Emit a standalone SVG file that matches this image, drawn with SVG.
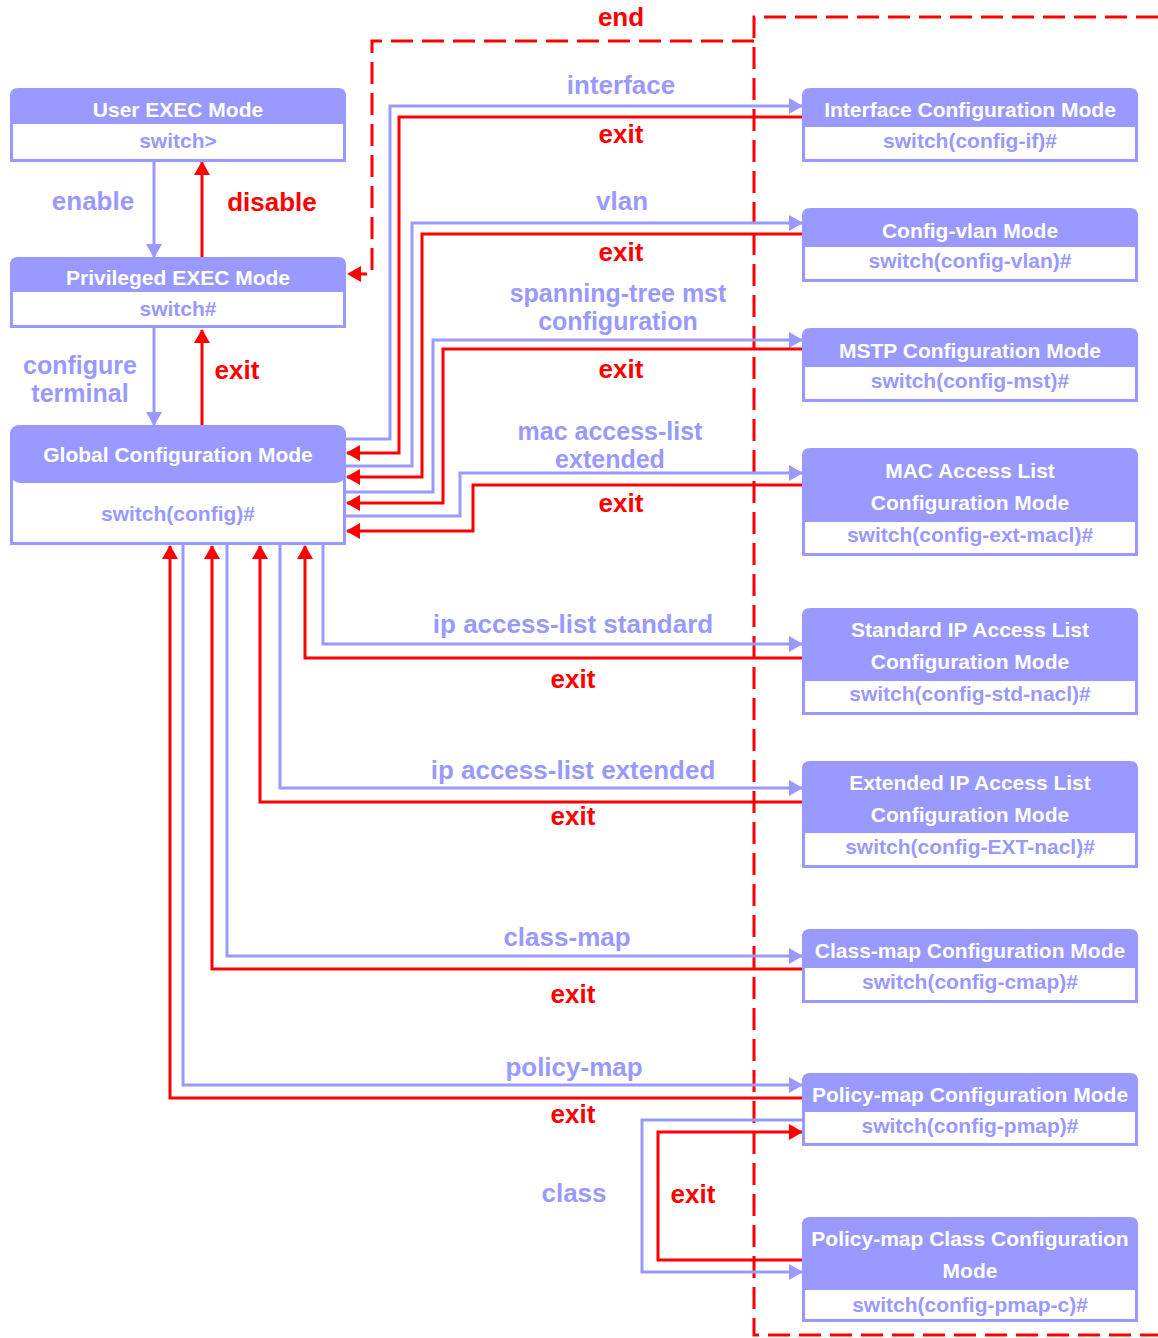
<svg xmlns="http://www.w3.org/2000/svg" width="1158" height="1338" viewBox="0 0 1158 1338">
<style>
.t{font-family:"Liberation Sans",Arial,sans-serif;font-weight:bold;text-anchor:middle}
.nt{font-size:21px;fill:#ffffff}
.ns{font-size:21px;fill:#9999ff}
.lp{font-size:26px;fill:#9999ff}
.lr{font-size:26px;fill:#ff0000}
.l2{font-size:25px}
.cp{fill:none;stroke:#9999ff;stroke-width:3;marker-end:url(#ap)}
.cr{fill:none;stroke:#ff0000;stroke-width:3;marker-end:url(#ar)}
.dash{fill:none;stroke:#ff0000;stroke-width:3;stroke-dasharray:22 9}
.hd{fill:#9999ff}
.bd{fill:#ffffff}
</style>
<defs>
<marker id="ap" markerUnits="userSpaceOnUse" markerWidth="14" markerHeight="16" refX="13" refY="8" orient="auto"><path d="M0,0 L14,8 L0,16 Z" fill="#9999ff"/></marker>
<marker id="ar" markerUnits="userSpaceOnUse" markerWidth="14" markerHeight="16" refX="13" refY="8" orient="auto"><path d="M0,0 L14,8 L0,16 Z" fill="#ff0000"/></marker>
</defs>
<rect width="1158" height="1338" fill="#ffffff"/>

<g id="connectors">
<path class="dash" d="M1158,17 H754 V1335 H1158"/>
<path class="dash" d="M754,41 H372 V274 H360" />
<path d="M361,266 L347,274 L361,282 Z" fill="#ff0000"/>
<path class="cp" d="M154,162 V257"/>
<path class="cr" d="M202,257 V162"/>
<path class="cp" d="M154,328 V425"/>
<path class="cr" d="M202,425 V330"/>
<path class="cp" d="M346,439 H390 V106 H802"/>
<path class="cr" d="M802,117 H399 V453 H347"/>
<path class="cp" d="M346,466 H412 V223 H802"/>
<path class="cr" d="M802,234 H422 V477 H347"/>
<path class="cp" d="M346,492 H433 V340 H802"/>
<path class="cr" d="M802,349 H443 V503 H347"/>
<path class="cp" d="M346,516 H460 V473 H802"/>
<path class="cr" d="M802,485 H473 V531 H347"/>
<path class="cp" d="M323,545 V644 H802"/>
<path class="cr" d="M802,658 H305 V546"/>
<path class="cp" d="M280,545 V788 H802"/>
<path class="cr" d="M802,802 H260 V546"/>
<path class="cp" d="M227,545 V956 H802"/>
<path class="cr" d="M802,969 H212 V546"/>
<path class="cp" d="M183,545 V1085 H802"/>
<path class="cr" d="M802,1098 H170 V546"/>
<path class="cp" d="M806,1120 H642 V1272 H802"/>
<path class="cr" d="M802,1260 H658 V1132 H802"/>
</g>

<g id="labels" class="t">
<text class="lr" x="621" y="26">end</text>
<text class="lp" x="93" y="210">enable</text>
<text class="lr" x="272" y="211">disable</text>
<text class="lp l2" x="80" y="374">configure<tspan x="80" dy="28">terminal</tspan></text>
<text class="lr" x="237" y="379">exit</text>
<text class="lp" x="621" y="94">interface</text>
<text class="lr" x="621" y="143">exit</text>
<text class="lp" x="622" y="210">vlan</text>
<text class="lr" x="621" y="261">exit</text>
<text class="lp l2" x="618" y="302">spanning-tree mst<tspan x="618" dy="28">configuration</tspan></text>
<text class="lr" x="621" y="378">exit</text>
<text class="lp l2" x="610" y="440">mac access-list<tspan x="610" dy="28">extended</tspan></text>
<text class="lr" x="621" y="512">exit</text>
<text class="lp" x="573" y="633">ip access-list standard</text>
<text class="lr" x="573" y="688">exit</text>
<text class="lp" x="573" y="779">ip access-list extended</text>
<text class="lr" x="573" y="825">exit</text>
<text class="lp" x="567" y="946">class-map</text>
<text class="lr" x="573" y="1003">exit</text>
<text class="lp" x="574" y="1076">policy-map</text>
<text class="lr" x="573" y="1123">exit</text>
<text class="lp" x="574" y="1202">class</text>
<text class="lr" x="693" y="1203">exit</text>
</g>

<g id="user-exec">
<path class="hd" d="M18,88 H338 Q346,88 346,96 V162 H10 V96 Q10,88 18,88 Z"/>
<rect class="bd" x="13" y="124" width="330" height="35"/>
<text class="t nt" x="178" y="117">User EXEC Mode</text>
<text class="t ns" x="178" y="148">switch&gt;</text>
</g>
<g id="privileged-exec">
<path class="hd" d="M18,257 H338 Q346,257 346,265 V328 H10 V265 Q10,257 18,257 Z"/>
<rect class="bd" x="13" y="292" width="330" height="33"/>
<text class="t nt" x="178" y="285">Privileged EXEC Mode</text>
<text class="t ns" x="178" y="316">switch#</text>
</g>
<g id="global-config">
<path class="hd" d="M20,425 H336 Q346,425 346,435 V545 H10 V435 Q10,425 20,425 Z"/>
<rect class="bd" x="13" y="470" width="330" height="72"/>
<rect class="hd" x="10" y="425" width="336" height="58" rx="10"/>
<text class="t nt" x="178" y="462">Global Configuration Mode</text>
<text class="t ns" x="178" y="521">switch(config)#</text>
</g>

<g id="interface-config">
<path class="hd" d="M810,88 H1130 Q1138,88 1138,96 V162 H802 V96 Q802,88 810,88 Z"/>
<rect class="bd" x="805" y="127" width="330" height="32"/>
<text class="t nt" x="970" y="117">Interface Configuration Mode</text>
<text class="t ns" x="970" y="148">switch(config-if)#</text>
</g>
<g id="config-vlan">
<path class="hd" d="M810,208 H1130 Q1138,208 1138,216 V282 H802 V216 Q802,208 810,208 Z"/>
<rect class="bd" x="805" y="247" width="330" height="32"/>
<text class="t nt" x="970" y="238">Config-vlan Mode</text>
<text class="t ns" x="970" y="268">switch(config-vlan)#</text>
</g>
<g id="mstp-config">
<path class="hd" d="M810,328 H1130 Q1138,328 1138,336 V402 H802 V336 Q802,328 810,328 Z"/>
<rect class="bd" x="805" y="367" width="330" height="32"/>
<text class="t nt" x="970" y="358">MSTP Configuration Mode</text>
<text class="t ns" x="970" y="388">switch(config-mst)#</text>
</g>
<g id="mac-acl">
<path class="hd" d="M810,448 H1130 Q1138,448 1138,456 V556 H802 V456 Q802,448 810,448 Z"/>
<rect class="bd" x="805" y="522" width="330" height="31"/>
<text class="t nt" x="970" y="478">MAC Access List<tspan x="970" dy="32">Configuration Mode</tspan></text>
<text class="t ns" x="970" y="542">switch(config-ext-macl)#</text>
</g>
<g id="std-ip-acl">
<path class="hd" d="M810,608 H1130 Q1138,608 1138,616 V715 H802 V616 Q802,608 810,608 Z"/>
<rect class="bd" x="805" y="681" width="330" height="31"/>
<text class="t nt" x="970" y="637">Standard IP Access List<tspan x="970" dy="32">Configuration Mode</tspan></text>
<text class="t ns" x="970" y="701">switch(config-std-nacl)#</text>
</g>
<g id="ext-ip-acl">
<path class="hd" d="M810,761 H1130 Q1138,761 1138,769 V868 H802 V769 Q802,761 810,761 Z"/>
<rect class="bd" x="805" y="833" width="330" height="32"/>
<text class="t nt" x="970" y="790">Extended IP Access List<tspan x="970" dy="32">Configuration Mode</tspan></text>
<text class="t ns" x="970" y="854">switch(config-EXT-nacl)#</text>
</g>
<g id="class-map">
<path class="hd" d="M810,929 H1130 Q1138,929 1138,937 V1003 H802 V937 Q802,929 810,929 Z"/>
<rect class="bd" x="805" y="968" width="330" height="32"/>
<text class="t nt" x="970" y="958">Class-map Configuration Mode</text>
<text class="t ns" x="970" y="989">switch(config-cmap)#</text>
</g>
<g id="policy-map">
<path class="hd" d="M810,1073 H1130 Q1138,1073 1138,1081 V1146 H802 V1081 Q802,1073 810,1073 Z"/>
<rect class="bd" x="805" y="1112" width="330" height="31"/>
<text class="t nt" x="970" y="1102">Policy-map Configuration Mode</text>
<text class="t ns" x="970" y="1133">switch(config-pmap)#</text>
</g>
<g id="policy-map-class">
<path class="hd" d="M810,1217 H1130 Q1138,1217 1138,1225 V1322 H802 V1225 Q802,1217 810,1217 Z"/>
<rect class="bd" x="805" y="1290" width="330" height="29"/>
<text class="t nt" x="970" y="1246">Policy-map Class Configuration<tspan x="970" dy="32">Mode</tspan></text>
<text class="t ns" x="970" y="1312">switch(config-pmap-c)#</text>
</g>
</svg>
